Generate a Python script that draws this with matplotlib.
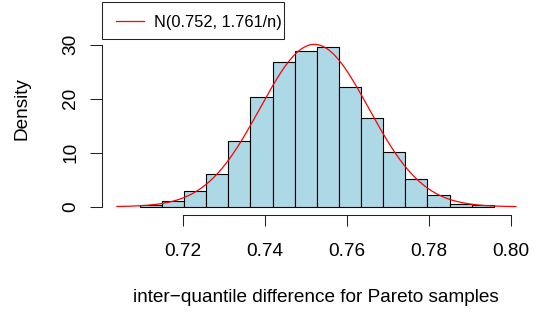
import numpy as np
import matplotlib
matplotlib.use("Agg")
import matplotlib.pyplot as plt
from matplotlib.patches import Rectangle
from matplotlib.lines import Line2D

plt.rcParams['font.family'] = ['Liberation Sans', 'DejaVu Sans']

# ---- data ----
bin_edges = [0.7094, 0.7148, 0.7202, 0.7256, 0.7310, 0.7364, 0.7418, 0.7472,
             0.7526, 0.7580, 0.7634, 0.7688, 0.7742, 0.7796, 0.7850, 0.7904, 0.7958]
densities = [0.37, 1.10, 2.96, 6.05, 12.17, 20.37, 26.74, 28.83,
             29.52, 22.17, 16.48, 10.20, 5.07, 2.10, 0.44, 0.26]
x_ticks = [0.72, 0.74, 0.76, 0.78, 0.80]
x_tick_labels = ["0.72", "0.74", "0.76", "0.78", "0.80"]
y_ticks = [0, 10, 20, 30]
y_tick_labels = ["0", "10", "20", "30"]
norm_mean = 0.752
norm_var_n = 1.761
n_samples = 10000
curve_range = (0.7038, 0.8012)
legend_label = "N(0.752, 1.761/n)"
x_label = "inter\u2212quantile difference for Pareto samples"
y_label = "Density"

W, H = 536, 312
fig = plt.figure(figsize=(W / 100, H / 100), dpi=100)

def fx(px):
    return px / W

def fy(py):
    return 1 - py / H

left_px, right_px, top_px, bottom_px = 101.7, 530.6, 2.3, 215.0
ax = fig.add_axes([fx(left_px), fy(bottom_px), (right_px - left_px) / W, (bottom_px - top_px) / H])
ax.set_xlim(0.70008, 0.80479)
ax.set_ylim(-1.537, 37.85)

edges = np.array(bin_edges)
ax.bar(edges[:-1], densities, width=np.diff(edges), align='edge',
       color='#ADD8E6', edgecolor='black', linewidth=0.8, zorder=2)

sd = np.sqrt(norm_var_n / n_samples)
xs = np.linspace(curve_range[0], curve_range[1], 500)
ys = np.exp(-0.5 * ((xs - norm_mean) / sd) ** 2) / (sd * np.sqrt(2 * np.pi))
ax.plot(xs, ys, color='red', linewidth=0.9, zorder=3)

for s in ['top', 'right']:
    ax.spines[s].set_visible(False)
ax.spines['bottom'].set_bounds(x_ticks[0], x_ticks[-1])
ax.spines['left'].set_bounds(y_ticks[0], y_ticks[-1])
for s in ['bottom', 'left']:
    ax.spines[s].set_linewidth(0.75)
    ax.spines[s].set_color('#222222')

ax.set_xticks(x_ticks)
ax.set_xticklabels(x_tick_labels)
ax.set_yticks(y_ticks)
ax.set_yticklabels(y_tick_labels, rotation=90, va='center')
ax.tick_params(axis='x', length=7.9, width=0.75, color='#222222', pad=12.0, labelsize=13.7)
ax.tick_params(axis='y', length=8.3, width=0.75, color='#222222', pad=8.0, labelsize=13.7)

fig.text(fx(316.2), fy(301.5), x_label, ha='center', va='baseline', fontsize=13.7)
fig.text(fx(22.5), fy(108.6), y_label, rotation=90, ha='center', va='center', fontsize=13.7)

# legend box (R-style)
fig.patches.append(Rectangle((fx(102.3), fy(39.0)), (284.3 - 102.3) / W, (39.0 - 2.3) / H,
                             transform=fig.transFigure, facecolor='white',
                             edgecolor='#222222', linewidth=0.75, zorder=5))
fig.lines.append(Line2D([fx(116), fx(144)], [fy(20.5), fy(20.5)], transform=fig.transFigure,
                        color='red', linewidth=0.9, zorder=6))
fig.text(fx(154.3), fy(26.7), legend_label, ha='left', va='baseline', fontsize=11.8, zorder=6)

fig.savefig("out.png", dpi=100)
